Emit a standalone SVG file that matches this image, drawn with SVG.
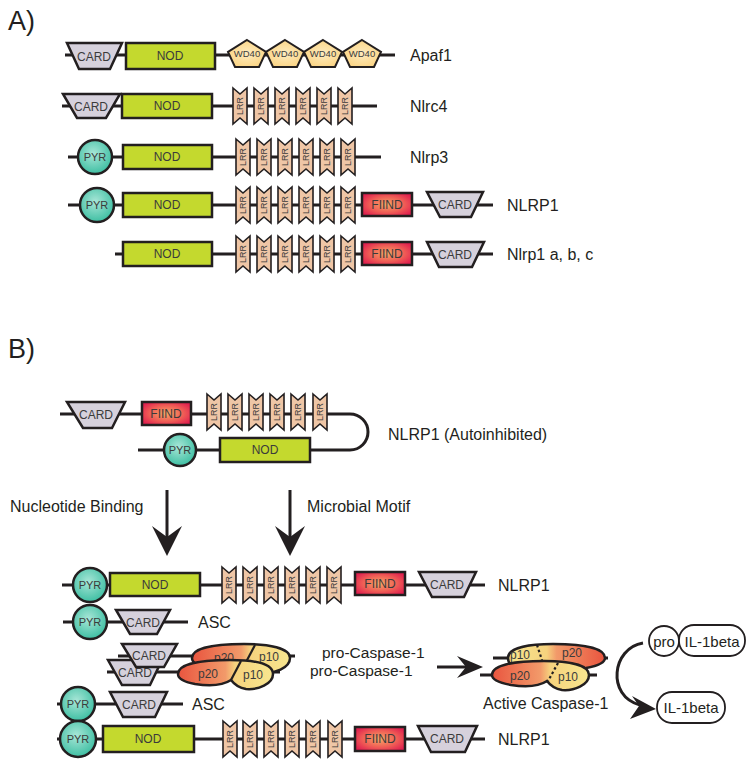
<svg xmlns="http://www.w3.org/2000/svg" width="753" height="761" viewBox="0 0 753 761">
<defs>
<style>
.bb{stroke:#231f20;stroke-width:3;fill:none}
.card{fill:#d6d1dc;stroke:#231f20;stroke-width:2.5}
.nod{fill:#c4d92e;stroke:#231f20;stroke-width:2.5}
.fiind{fill:url(#gF);stroke:#231f20;stroke-width:2.5}
.pyr{fill:url(#gP);stroke:#231f20;stroke-width:2.5}
.wd{fill:url(#gW);stroke:#231f20;stroke-width:2}
.lrr{fill:#efc6a6;stroke:#231f20;stroke-width:1.6}
.blob{stroke:#231f20;stroke-width:2.5}
.t{font-family:"Liberation Sans",Arial,sans-serif;fill:#3b3b3b;text-anchor:middle}
.s12{font-size:12px}.s11{font-size:11px}.s10{font-size:9.5px}.s8{font-size:9px}
.lab{font-family:"Liberation Sans",Arial,sans-serif;font-size:16px;fill:#231f20}
.big{font-family:"Liberation Sans",Arial,sans-serif;font-size:27px;fill:#231f20}
.arr{fill:#231f20}
.io{fill:#fff;stroke:#231f20;stroke-width:1.8}
</style>
<radialGradient id="gF" cx="0.5" cy="0.5" r="0.6"><stop offset="0" stop-color="#f7a866"/><stop offset="0.6" stop-color="#ef5a55"/><stop offset="1" stop-color="#e0204f"/></radialGradient>
<radialGradient id="gP" cx="0.45" cy="0.4" r="0.6"><stop offset="0" stop-color="#a8e6d7"/><stop offset="1" stop-color="#3fbfa3"/></radialGradient>
<radialGradient id="gW" cx="0.5" cy="0.5" r="0.6"><stop offset="0" stop-color="#fdebbf"/><stop offset="1" stop-color="#fbd27e"/></radialGradient>
<linearGradient id="gC" x1="0" y1="0" x2="1" y2="0"><stop offset="0" stop-color="#e9553f"/><stop offset="0.5" stop-color="#f29a6a"/><stop offset="0.6" stop-color="#f6d37e"/><stop offset="1" stop-color="#f8e68f"/></linearGradient>
</defs>

<text class="big" x="8" y="30">A)</text>
<text class="big" x="8" y="358">B)</text>

<!-- Apaf1 -->
<g id="apaf1">
<line class="bb" x1="65" y1="55" x2="395" y2="55"/>
<polygon class="card" points="67,43 122,43 110,69 79,69"/><text class="t s12" x="94" y="61">CARD</text>
<rect class="nod" x="126" y="43" width="89" height="26"/><text class="t s12" x="170" y="60">NOD</text>
<polygon class="wd" points="247,40 266,52 259,67 235,67 228,52"/><text class="t s10" x="247" y="57">WD40</text>
<polygon class="wd" points="285,40 304,52 297,67 273,67 266,52"/><text class="t s10" x="285" y="57">WD40</text>
<polygon class="wd" points="323,40 342,52 335,67 311,67 304,52"/><text class="t s10" x="323" y="57">WD40</text>
<polygon class="wd" points="362,40 381,52 374,67 350,67 343,52"/><text class="t s10" x="362" y="57">WD40</text>
<text class="lab" x="410" y="61">Apaf1</text>
</g>

<!-- Nlrc4 -->
<g id="nlrc4">
<line class="bb" x1="62" y1="106" x2="377" y2="106"/>
<polygon class="card" points="63,94 120,94 106,118 77,118"/><text class="t s12" x="91" y="111">CARD</text>
<rect class="nod" x="122" y="94" width="90" height="24"/><text class="t s12" x="167" y="110">NOD</text>
<g transform="translate(240,106)"><polygon class="lrr" points="-7,-18 0,-12 7,-18 7,18 0,12 -7,18"/><text class="t s8" transform="rotate(-90)" y="3">LRR</text></g>
<g transform="translate(261,106)"><polygon class="lrr" points="-7,-18 0,-12 7,-18 7,18 0,12 -7,18"/><text class="t s8" transform="rotate(-90)" y="3">LRR</text></g>
<g transform="translate(282,106)"><polygon class="lrr" points="-7,-18 0,-12 7,-18 7,18 0,12 -7,18"/><text class="t s8" transform="rotate(-90)" y="3">LRR</text></g>
<g transform="translate(303,106)"><polygon class="lrr" points="-7,-18 0,-12 7,-18 7,18 0,12 -7,18"/><text class="t s8" transform="rotate(-90)" y="3">LRR</text></g>
<g transform="translate(324,106)"><polygon class="lrr" points="-7,-18 0,-12 7,-18 7,18 0,12 -7,18"/><text class="t s8" transform="rotate(-90)" y="3">LRR</text></g>
<g transform="translate(345,106)"><polygon class="lrr" points="-7,-18 0,-12 7,-18 7,18 0,12 -7,18"/><text class="t s8" transform="rotate(-90)" y="3">LRR</text></g>
<text class="lab" x="410" y="112">Nlrc4</text>
</g>

<!-- Nlrp3 -->
<g id="nlrp3">
<line class="bb" x1="68" y1="157" x2="381" y2="157"/>
<circle class="pyr" cx="95" cy="157" r="17"/><text class="t s11" x="95" y="161">PYR</text>
<rect class="nod" x="123" y="145" width="89" height="24"/><text class="t s12" x="167" y="161">NOD</text>
<g transform="translate(243,157)"><polygon class="lrr" points="-7,-18 0,-12 7,-18 7,18 0,12 -7,18"/><text class="t s8" transform="rotate(-90)" y="3">LRR</text></g>
<g transform="translate(264,157)"><polygon class="lrr" points="-7,-18 0,-12 7,-18 7,18 0,12 -7,18"/><text class="t s8" transform="rotate(-90)" y="3">LRR</text></g>
<g transform="translate(285,157)"><polygon class="lrr" points="-7,-18 0,-12 7,-18 7,18 0,12 -7,18"/><text class="t s8" transform="rotate(-90)" y="3">LRR</text></g>
<g transform="translate(306,157)"><polygon class="lrr" points="-7,-18 0,-12 7,-18 7,18 0,12 -7,18"/><text class="t s8" transform="rotate(-90)" y="3">LRR</text></g>
<g transform="translate(327,157)"><polygon class="lrr" points="-7,-18 0,-12 7,-18 7,18 0,12 -7,18"/><text class="t s8" transform="rotate(-90)" y="3">LRR</text></g>
<g transform="translate(348,157)"><polygon class="lrr" points="-7,-18 0,-12 7,-18 7,18 0,12 -7,18"/><text class="t s8" transform="rotate(-90)" y="3">LRR</text></g>
<text class="lab" x="410" y="163">Nlrp3</text>
</g>

<!-- NLRP1 (A) -->
<g id="nlrp1A">
<line class="bb" x1="68" y1="205" x2="493" y2="205"/>
<circle class="pyr" cx="97" cy="205" r="17"/><text class="t s11" x="97" y="209">PYR</text>
<rect class="nod" x="123" y="193" width="89" height="24"/><text class="t s12" x="167" y="209">NOD</text>
<g transform="translate(243,205)"><polygon class="lrr" points="-7,-18 0,-12 7,-18 7,18 0,12 -7,18"/><text class="t s8" transform="rotate(-90)" y="3">LRR</text></g>
<g transform="translate(264,205)"><polygon class="lrr" points="-7,-18 0,-12 7,-18 7,18 0,12 -7,18"/><text class="t s8" transform="rotate(-90)" y="3">LRR</text></g>
<g transform="translate(285,205)"><polygon class="lrr" points="-7,-18 0,-12 7,-18 7,18 0,12 -7,18"/><text class="t s8" transform="rotate(-90)" y="3">LRR</text></g>
<g transform="translate(306,205)"><polygon class="lrr" points="-7,-18 0,-12 7,-18 7,18 0,12 -7,18"/><text class="t s8" transform="rotate(-90)" y="3">LRR</text></g>
<g transform="translate(327,205)"><polygon class="lrr" points="-7,-18 0,-12 7,-18 7,18 0,12 -7,18"/><text class="t s8" transform="rotate(-90)" y="3">LRR</text></g>
<g transform="translate(348,205)"><polygon class="lrr" points="-7,-18 0,-12 7,-18 7,18 0,12 -7,18"/><text class="t s8" transform="rotate(-90)" y="3">LRR</text></g>
<rect class="fiind" x="362" y="193" width="50" height="23"/><text class="t s12" x="387" y="209">FIIND</text>
<polygon class="card" points="427,192 483,192 471,217 440,217"/><text class="t s12" x="455" y="209">CARD</text>
<text class="lab" x="507" y="211">NLRP1</text>
</g>

<!-- Nlrp1 a, b, c -->
<g id="nlrp1abc">
<line class="bb" x1="115" y1="254" x2="493" y2="254"/>
<rect class="nod" x="123" y="242" width="89" height="24"/><text class="t s12" x="167" y="258">NOD</text>
<g transform="translate(243,254)"><polygon class="lrr" points="-7,-18 0,-12 7,-18 7,18 0,12 -7,18"/><text class="t s8" transform="rotate(-90)" y="3">LRR</text></g>
<g transform="translate(264,254)"><polygon class="lrr" points="-7,-18 0,-12 7,-18 7,18 0,12 -7,18"/><text class="t s8" transform="rotate(-90)" y="3">LRR</text></g>
<g transform="translate(285,254)"><polygon class="lrr" points="-7,-18 0,-12 7,-18 7,18 0,12 -7,18"/><text class="t s8" transform="rotate(-90)" y="3">LRR</text></g>
<g transform="translate(306,254)"><polygon class="lrr" points="-7,-18 0,-12 7,-18 7,18 0,12 -7,18"/><text class="t s8" transform="rotate(-90)" y="3">LRR</text></g>
<g transform="translate(327,254)"><polygon class="lrr" points="-7,-18 0,-12 7,-18 7,18 0,12 -7,18"/><text class="t s8" transform="rotate(-90)" y="3">LRR</text></g>
<g transform="translate(348,254)"><polygon class="lrr" points="-7,-18 0,-12 7,-18 7,18 0,12 -7,18"/><text class="t s8" transform="rotate(-90)" y="3">LRR</text></g>
<rect class="fiind" x="362" y="242" width="50" height="23"/><text class="t s12" x="387" y="258">FIIND</text>
<polygon class="card" points="427,242 484,242 472,267 439,267"/><text class="t s12" x="455" y="259">CARD</text>
<text class="lab" x="507" y="260">Nlrp1 a, b, c</text>
</g>

<!-- NLRP1 autoinhibited -->
<g id="nlrp1auto">
<path class="bb" d="M60,414 H350 A18,18 0 0 1 350,450 H138"/>
<polygon class="card" points="67,402 125,402 112,428 83,428"/><text class="t s12" x="96" y="419">CARD</text>
<rect class="fiind" x="142" y="402" width="49" height="23"/><text class="t s12" x="166" y="418">FIIND</text>
<g transform="translate(214,412)"><polygon class="lrr" points="-7,-18 0,-12 7,-18 7,18 0,12 -7,18"/><text class="t s8" transform="rotate(-90)" y="3">LRR</text></g>
<g transform="translate(235,412)"><polygon class="lrr" points="-7,-18 0,-12 7,-18 7,18 0,12 -7,18"/><text class="t s8" transform="rotate(-90)" y="3">LRR</text></g>
<g transform="translate(256,412)"><polygon class="lrr" points="-7,-18 0,-12 7,-18 7,18 0,12 -7,18"/><text class="t s8" transform="rotate(-90)" y="3">LRR</text></g>
<g transform="translate(277,412)"><polygon class="lrr" points="-7,-18 0,-12 7,-18 7,18 0,12 -7,18"/><text class="t s8" transform="rotate(-90)" y="3">LRR</text></g>
<g transform="translate(298,412)"><polygon class="lrr" points="-7,-18 0,-12 7,-18 7,18 0,12 -7,18"/><text class="t s8" transform="rotate(-90)" y="3">LRR</text></g>
<g transform="translate(320,412)"><polygon class="lrr" points="-7,-18 0,-12 7,-18 7,18 0,12 -7,18"/><text class="t s8" transform="rotate(-90)" y="3">LRR</text></g>
<circle class="pyr" cx="180" cy="450" r="16"/><text class="t s11" x="180" y="454">PYR</text>
<rect class="nod" x="220" y="438" width="90" height="24"/><text class="t s12" x="265" y="454">NOD</text>
<text class="lab" x="388" y="440">NLRP1 (Autoinhibited)</text>
</g>

<!-- connectors -->
<g id="connectors">
<line class="bb" x1="167" y1="490" x2="167" y2="542"/>
<path class="arr" d="M167,556 L152,526 L167,537 L182,526 Z"/>
<line class="bb" x1="290" y1="490" x2="290" y2="542"/>
<path class="arr" d="M290,556 L275,526 L290,537 L305,526 Z"/>
<line class="bb" x1="437" y1="667" x2="468" y2="667"/>
<path class="arr" d="M483,667 L457,656 L466,667 L457,678 Z"/>
<path class="bb" d="M643,643 C612,648 606,696 640,705"/>
<path class="arr" d="M656,709 L632,696 L639,706 L630,719 Z"/>
</g>
<text class="lab" x="10" y="512">Nucleotide Binding</text>
<text class="lab" x="307" y="512">Microbial Motif</text>

<!-- NLRP1 active 1 -->
<g id="nlrp1B1">
<line class="bb" x1="62" y1="585" x2="485" y2="585"/>
<circle class="pyr" cx="90" cy="585" r="17"/><text class="t s11" x="90" y="589">PYR</text>
<rect class="nod" x="110" y="573" width="90" height="23"/><text class="t s12" x="155" y="589">NOD</text>
<g transform="translate(229,585)"><polygon class="lrr" points="-7,-18 0,-12 7,-18 7,18 0,12 -7,18"/><text class="t s8" transform="rotate(-90)" y="3">LRR</text></g>
<g transform="translate(250,585)"><polygon class="lrr" points="-7,-18 0,-12 7,-18 7,18 0,12 -7,18"/><text class="t s8" transform="rotate(-90)" y="3">LRR</text></g>
<g transform="translate(271,585)"><polygon class="lrr" points="-7,-18 0,-12 7,-18 7,18 0,12 -7,18"/><text class="t s8" transform="rotate(-90)" y="3">LRR</text></g>
<g transform="translate(292,585)"><polygon class="lrr" points="-7,-18 0,-12 7,-18 7,18 0,12 -7,18"/><text class="t s8" transform="rotate(-90)" y="3">LRR</text></g>
<g transform="translate(313,585)"><polygon class="lrr" points="-7,-18 0,-12 7,-18 7,18 0,12 -7,18"/><text class="t s8" transform="rotate(-90)" y="3">LRR</text></g>
<g transform="translate(334,585)"><polygon class="lrr" points="-7,-18 0,-12 7,-18 7,18 0,12 -7,18"/><text class="t s8" transform="rotate(-90)" y="3">LRR</text></g>
<rect class="fiind" x="355" y="572" width="50" height="23"/><text class="t s12" x="380" y="588">FIIND</text>
<polygon class="card" points="419,572 476,572 464,597 432,597"/><text class="t s12" x="447" y="589">CARD</text>
<text class="lab" x="498" y="591">NLRP1</text>
</g>

<!-- ASC 1 -->
<g id="asc1">
<line class="bb" x1="63" y1="622" x2="188" y2="622"/>
<circle class="pyr" cx="90" cy="622" r="17"/><text class="t s11" x="90" y="626">PYR</text>
<polygon class="card" points="116,610 170,610 157,634 130,634"/><text class="t s12" x="143" y="627">CARD</text>
<text class="lab" x="198" y="628">ASC</text>
</g>

<!-- pro-caspase pair -->
<g id="procasp">
<line class="bb" x1="107" y1="672" x2="280" y2="672"/>
<polygon class="card" points="108,660 162,660 150,685 122,685"/><text class="t s12" x="135" y="677">CARD</text>
<line class="bb" x1="118" y1="656" x2="295" y2="656"/>
<polygon class="card" points="122,644 177,644 164,667 136,667"/><text class="t s12" x="149" y="660">CARD</text>
<g transform="translate(14,-16)">
<path class="blob" fill="url(#gC)" d="M178,674 C178,664 200,660 230,660 C255,660 276,664 276,674 C276,684 260,690 248,689 C241,688 235,684 231,680 C222,686 208,686 195,684 C184,682 178,679 178,674 Z"/>
<line x1="241" y1="661" x2="231" y2="680" stroke="#231f20" stroke-width="2.2"/>
<text class="t s12" x="210" y="678">p20</text><text class="t s12" x="255" y="677">p10</text>
</g>
<path class="blob" fill="url(#gC)" d="M178,674 C178,664 200,660 230,660 C255,660 273,664 273,674 C273,684 258,690 246,689 C240,688 234,684 231,680 C222,686 208,686 195,684 C184,682 178,679 178,674 Z"/>
<line x1="241" y1="661" x2="231" y2="680" stroke="#231f20" stroke-width="2.2"/>
<text class="t s12" x="208" y="678">p20</text><text class="t s12" x="253" y="679">p10</text>
</g>
<text class="lab" x="322" y="658" style="font-size:15.5px">pro-Caspase-1</text>
<text class="lab" x="310" y="676" style="font-size:15.5px">pro-Caspase-1</text>

<!-- active caspase -->
<g id="activecasp">
<line class="bb" x1="493" y1="658" x2="608" y2="658"/>
<line class="bb" x1="480" y1="675" x2="597" y2="675"/>
<g transform="translate(1095,-16) scale(-1,1)">
<path class="blob" fill="url(#gC)" d="M490,674 C490,664 512,660 542,660 C567,660 587,664 587,674 C587,684 572,690 560,689 C554,688 548,684 545,680 C536,686 522,686 509,684 C498,682 490,679 490,674 Z"/>
</g>
<line x1="537" y1="645" x2="542" y2="660" stroke="#231f20" stroke-width="2.2" stroke-dasharray="2.5,2.5"/>
<text class="t s12" x="520" y="659">p10</text><text class="t s12" x="572" y="657">p20</text>
<path class="blob" fill="url(#gC)" d="M492,675 C492,665 514,661 544,661 C569,661 589,665 589,675 C589,685 574,691 562,690 C556,689 550,685 547,681 C538,687 524,687 511,685 C500,683 492,680 492,675 Z"/>
<line x1="558" y1="663" x2="547" y2="683" stroke="#231f20" stroke-width="2.2" stroke-dasharray="2.5,2.5"/>
<text class="t s12" x="520" y="680">p20</text><text class="t s12" x="568" y="681">p10</text>
<text class="lab" x="483" y="709">Active Caspase-1</text>
</g>

<!-- IL-1beta -->
<g id="proil1b">
<circle class="io" cx="664" cy="641" r="15"/>
<text class="lab" x="664" y="647" text-anchor="middle" style="font-size:15px">pro</text>
<rect class="io" x="679" y="625" width="66" height="31" rx="15"/>
<text class="lab" x="712" y="647" text-anchor="middle" style="font-size:15px">IL-1beta</text>
</g>
<g id="il1b">
<rect class="io" x="657" y="692" width="68" height="31" rx="15"/>
<text class="lab" x="691" y="713" text-anchor="middle" style="font-size:15px">IL-1beta</text>
</g>

<!-- ASC 2 -->
<g id="asc2">
<line class="bb" x1="57" y1="704" x2="183" y2="704"/>
<circle class="pyr" cx="78" cy="704" r="17"/><text class="t s11" x="78" y="708">PYR</text>
<polygon class="card" points="110,692 167,692 155,717 123,717"/><text class="t s12" x="139" y="709">CARD</text>
<text class="lab" x="192" y="710">ASC</text>
</g>

<!-- NLRP1 active 2 -->
<g id="nlrp1B2">
<line class="bb" x1="57" y1="739" x2="485" y2="739"/>
<circle class="pyr" cx="78" cy="739" r="18"/><text class="t s11" x="78" y="743">PYR</text>
<rect class="nod" x="103" y="726" width="91" height="26"/><text class="t s12" x="148" y="743">NOD</text>
<g transform="translate(230,739)"><polygon class="lrr" points="-7,-18 0,-12 7,-18 7,18 0,12 -7,18"/><text class="t s8" transform="rotate(-90)" y="3">LRR</text></g>
<g transform="translate(250,739)"><polygon class="lrr" points="-7,-18 0,-12 7,-18 7,18 0,12 -7,18"/><text class="t s8" transform="rotate(-90)" y="3">LRR</text></g>
<g transform="translate(271,739)"><polygon class="lrr" points="-7,-18 0,-12 7,-18 7,18 0,12 -7,18"/><text class="t s8" transform="rotate(-90)" y="3">LRR</text></g>
<g transform="translate(292,739)"><polygon class="lrr" points="-7,-18 0,-12 7,-18 7,18 0,12 -7,18"/><text class="t s8" transform="rotate(-90)" y="3">LRR</text></g>
<g transform="translate(313,739)"><polygon class="lrr" points="-7,-18 0,-12 7,-18 7,18 0,12 -7,18"/><text class="t s8" transform="rotate(-90)" y="3">LRR</text></g>
<g transform="translate(335,739)"><polygon class="lrr" points="-7,-18 0,-12 7,-18 7,18 0,12 -7,18"/><text class="t s8" transform="rotate(-90)" y="3">LRR</text></g>
<rect class="fiind" x="355" y="727" width="50" height="24"/><text class="t s12" x="380" y="743">FIIND</text>
<polygon class="card" points="418,726 477,726 465,752 431,752"/><text class="t s12" x="447" y="743">CARD</text>
<text class="lab" x="498" y="745">NLRP1</text>
</g>
</svg>
